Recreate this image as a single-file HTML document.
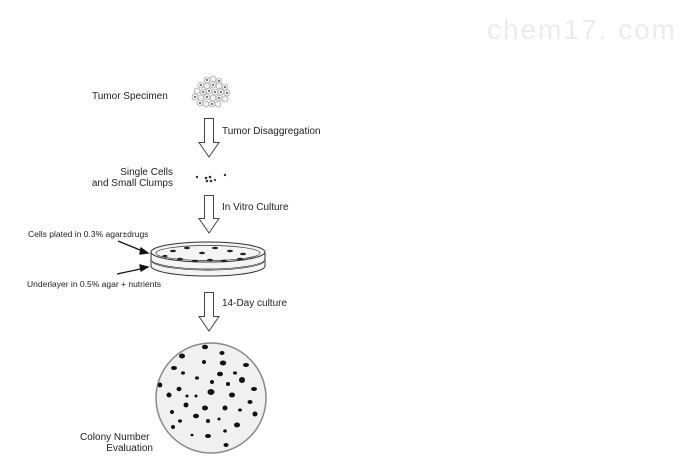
<!DOCTYPE html>
<html><head><meta charset="utf-8"><style>
html,body{margin:0;padding:0;background:#fff;}
svg{display:block;}
text{font-family:"Liberation Sans",Arial,sans-serif;fill:#222;}
</style></head><body>
<svg width="690" height="465" viewBox="0 0 690 465" xmlns="http://www.w3.org/2000/svg">
<text x="487" y="39" font-size="28" style="fill:#ececec" textLength="188" lengthAdjust="spacing">chem17. com</text>

<!-- tumor cluster -->
<g fill="#f2f2f2" stroke="#999" stroke-width="0.6">
<circle cx="207" cy="80" r="3"/><circle cx="213" cy="79" r="3"/><circle cx="219" cy="81" r="3"/>
<circle cx="201" cy="85" r="3"/><circle cx="207" cy="86" r="3"/><circle cx="213" cy="85" r="3"/><circle cx="219" cy="86" r="3"/><circle cx="225" cy="87" r="3"/>
<circle cx="197" cy="91" r="3"/><circle cx="203" cy="92" r="3"/><circle cx="209" cy="91" r="3"/><circle cx="215" cy="92" r="3"/><circle cx="221" cy="92" r="3"/><circle cx="227" cy="93" r="3"/>
<circle cx="195" cy="97" r="3"/><circle cx="201" cy="98" r="3"/><circle cx="207" cy="97" r="3"/><circle cx="213" cy="98" r="3"/><circle cx="219" cy="98" r="3"/><circle cx="225" cy="99" r="3"/>
<circle cx="200" cy="103" r="3"/><circle cx="206" cy="104" r="3"/><circle cx="212" cy="104" r="3"/><circle cx="218" cy="104" r="3"/>
</g>
<g fill="#222">
<circle cx="207" cy="80" r="0.9"/><circle cx="219" cy="81" r="0.9"/><circle cx="201" cy="85" r="0.9"/><circle cx="213" cy="85" r="0.9"/><circle cx="225" cy="87" r="0.9"/>
<circle cx="203" cy="92" r="0.9"/><circle cx="215" cy="92" r="0.9"/><circle cx="227" cy="93" r="0.9"/><circle cx="195" cy="97" r="0.9"/><circle cx="207" cy="97" r="0.9"/><circle cx="219" cy="98" r="0.9"/>
<circle cx="200" cy="103" r="0.9"/><circle cx="212" cy="104" r="0.9"/><circle cx="209" cy="91" r="0.9"/><circle cx="221" cy="92" r="0.9"/>
</g>
<text x="92" y="99" font-size="10">Tumor Specimen</text>

<!-- arrows -->
<g fill="#fff" stroke="#444" stroke-width="1">
<path d="M204.5 118.5 H213.5 V142.5 H219 L209 157 L199 142.5 H204.5 Z"/>
<path d="M204.5 195.5 H213.5 V218.5 H219 L209 233 L199 218.5 H204.5 Z"/>
<path d="M204.5 292.5 H213.5 V316.5 H219 L209 331 L199 316.5 H204.5 Z"/>
</g>
<text x="222" y="134" font-size="10">Tumor Disaggregation</text>
<text x="222" y="210" font-size="10">In Vitro Culture</text>
<text x="222" y="306" font-size="10">14-Day culture</text>

<!-- single cells -->
<g fill="#333"><circle cx="197" cy="177" r="1.2"/><circle cx="225" cy="175" r="1.2"/><circle cx="206" cy="178" r="1.3"/><circle cx="210" cy="177" r="1.3"/><circle cx="207" cy="181" r="1.3"/><circle cx="211" cy="181" r="1.3"/><circle cx="215" cy="180" r="1.1"/></g>
<text x="173" y="175" font-size="10" text-anchor="end">Single Cells</text>
<text x="173" y="186" font-size="10" text-anchor="end">and Small Clumps</text>

<!-- dish -->
<g fill="none" stroke="#333" stroke-width="1">
<path d="M151 252 V266 A57 10 0 0 0 265 266 V252" fill="#f4f4f4"/>
<ellipse cx="208" cy="252" rx="57" ry="10" fill="#f4f4f4"/>
<ellipse cx="208" cy="253" rx="52" ry="7.5" stroke-width="0.7"/>
<path d="M151 259 A57 10 0 0 0 265 259" stroke-width="0.7"/>
<path d="M152 262 A57 10 0 0 0 264 262" stroke-width="0.7"/>
</g>
<g fill="#222">
<ellipse cx="173" cy="251" rx="3" ry="1.2"/><ellipse cx="187" cy="248" rx="3" ry="1.2"/><ellipse cx="202" cy="253" rx="3" ry="1.2"/><ellipse cx="215" cy="248" rx="3" ry="1.2"/><ellipse cx="230" cy="251" rx="3" ry="1.2"/><ellipse cx="243" cy="254" rx="3" ry="1.2"/>
<ellipse cx="180" cy="259" rx="3" ry="1.2"/><ellipse cx="195" cy="261" rx="3" ry="1.2"/><ellipse cx="210" cy="260" rx="3" ry="1.2"/><ellipse cx="224" cy="261" rx="3" ry="1.2"/><ellipse cx="240" cy="259" rx="3" ry="1.2"/><ellipse cx="165" cy="256" rx="2.5" ry="1.1"/>
</g>
<g stroke="#111" stroke-width="1.3" fill="#111">
<line x1="118" y1="241" x2="145" y2="252"/><path d="M148 253 L141 248 L140 254 Z"/>
<line x1="117" y1="274" x2="145" y2="268"/><path d="M148 267 L140 265 L141 271 Z"/>
</g>
<text x="28" y="237" font-size="8.5">Cells plated in 0.3% agar±drugs</text>
<text x="27" y="287" font-size="8.5">Underlayer in 0.5% agar + nutrients</text>

<!-- plate -->
<circle cx="211" cy="398" r="55" fill="#f0f0f0" stroke="#888" stroke-width="1.5"/>
<g fill="#111">
<ellipse cx="205" cy="347" rx="3" ry="2.3"/><ellipse cx="182" cy="356" rx="3" ry="2.5"/><ellipse cx="222" cy="353" rx="2.5" ry="2"/><ellipse cx="174" cy="368" rx="3" ry="2"/><ellipse cx="204" cy="362" rx="2" ry="2"/><ellipse cx="223" cy="363" rx="3.2" ry="2.5"/><ellipse cx="246" cy="365" rx="3" ry="2"/>
<ellipse cx="183" cy="373" rx="2" ry="1.6"/><ellipse cx="220" cy="374" rx="3" ry="2.3"/><ellipse cx="235" cy="373" rx="2" ry="1.6"/><ellipse cx="197" cy="378" rx="2" ry="1.6"/><ellipse cx="242" cy="380" rx="3" ry="3"/>
<ellipse cx="160" cy="385" rx="2.3" ry="2.5"/><ellipse cx="212" cy="382" rx="2" ry="2"/><ellipse cx="228" cy="384" rx="2" ry="2"/><ellipse cx="179" cy="389" rx="2.5" ry="2.2"/><ellipse cx="254" cy="389" rx="3" ry="2"/>
<ellipse cx="169" cy="395" rx="2.5" ry="2.5"/><ellipse cx="211" cy="392" rx="3.5" ry="3"/><ellipse cx="232" cy="395" rx="3" ry="2.5"/><ellipse cx="187" cy="396" rx="1.5" ry="1.5"/><ellipse cx="196" cy="396" rx="1.5" ry="1.5"/>
<ellipse cx="250" cy="402" rx="2.5" ry="2"/><ellipse cx="186" cy="405" rx="2.5" ry="2.5"/><ellipse cx="205" cy="408" rx="3" ry="2.5"/><ellipse cx="225" cy="408" rx="2.5" ry="2.5"/><ellipse cx="240" cy="410" rx="2" ry="1.5"/>
<ellipse cx="172" cy="412" rx="2" ry="2"/><ellipse cx="196" cy="416" rx="3" ry="2.3"/><ellipse cx="255" cy="414" rx="2.5" ry="2.5"/><ellipse cx="180" cy="421" rx="2" ry="1.6"/><ellipse cx="208" cy="421" rx="2" ry="2"/><ellipse cx="219" cy="419" rx="1.5" ry="1.5"/>
<ellipse cx="237" cy="425" rx="3" ry="2.5"/><ellipse cx="173" cy="427" rx="2" ry="2"/><ellipse cx="225" cy="431" rx="1.8" ry="1.6"/><ellipse cx="192" cy="435" rx="1.5" ry="1.3"/><ellipse cx="208" cy="436" rx="3" ry="2"/><ellipse cx="226" cy="445" rx="2.5" ry="2"/>
</g>
<text x="80" y="440" font-size="10">Colony Number</text>
<text x="153" y="451" font-size="10" text-anchor="end">Evaluation</text>
</svg>
</body></html>
